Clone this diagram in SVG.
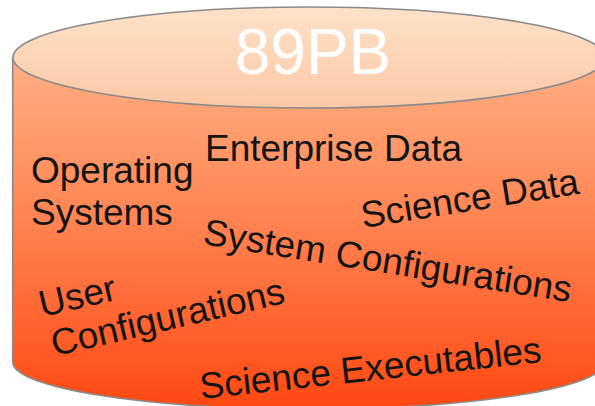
<svg xmlns="http://www.w3.org/2000/svg" width="595" height="406" viewBox="0 0 595 406">
  <defs>
    <linearGradient id="bodyGrad" gradientUnits="userSpaceOnUse" x1="0" y1="57" x2="0" y2="409">
      <stop offset="0" stop-color="#ffb084"/>
      <stop offset="0.5" stop-color="#ff804e"/>
      <stop offset="1" stop-color="#ff4812"/>
    </linearGradient>
    <linearGradient id="topGrad" gradientUnits="userSpaceOnUse" x1="0" y1="7" x2="0" y2="108">
      <stop offset="0" stop-color="#fde2c8"/>
      <stop offset="1" stop-color="#fcc8a5"/>
    </linearGradient>
  </defs>
  <style>
    .lbl { font-family: "Liberation Sans", Arial, sans-serif; font-size: 37px; fill: #141414; }
    .title { font-family: "Liberation Sans", Arial, sans-serif; font-size: 64px; fill: #ffffff; }
    .edge { stroke: #8a8a8a; stroke-width: 1.6; }
  </style>
  <g id="cylinder">
    <path class="edge" d="M 12.7,57.5 L 12.7,362 A 296,47 0 0 0 605,362 L 605,57.5 Z" fill="url(#bodyGrad)"/>
    <ellipse class="edge" cx="309" cy="57.5" rx="296" ry="50.5" fill="url(#topGrad)"/>
  </g>
  <g id="capacity">
    <text class="title" x="313" y="74" text-anchor="middle">89PB</text>
  </g>
  <g id="operating-systems">
    <text class="lbl" x="31" y="183">Operating</text>
    <text class="lbl" x="31" y="225">Systems</text>
  </g>
  <g id="enterprise-data">
    <text class="lbl" x="205" y="161">Enterprise Data</text>
  </g>
  <g id="science-data">
    <text class="lbl" transform="translate(363,228) rotate(-9)">Science Data</text>
  </g>
  <g id="system-configurations">
    <text class="lbl" transform="translate(202,244) rotate(9)">System Configurations</text>
  </g>
  <g id="user-configurations">
    <g transform="translate(42,317) rotate(-13)">
      <text class="lbl" x="0" y="0">User</text>
      <text class="lbl" x="3" y="41">Configurations</text>
    </g>
  </g>
  <g id="science-executables">
    <text class="lbl" transform="translate(201,399) rotate(-6.2)">Science Executables</text>
  </g>
</svg>
